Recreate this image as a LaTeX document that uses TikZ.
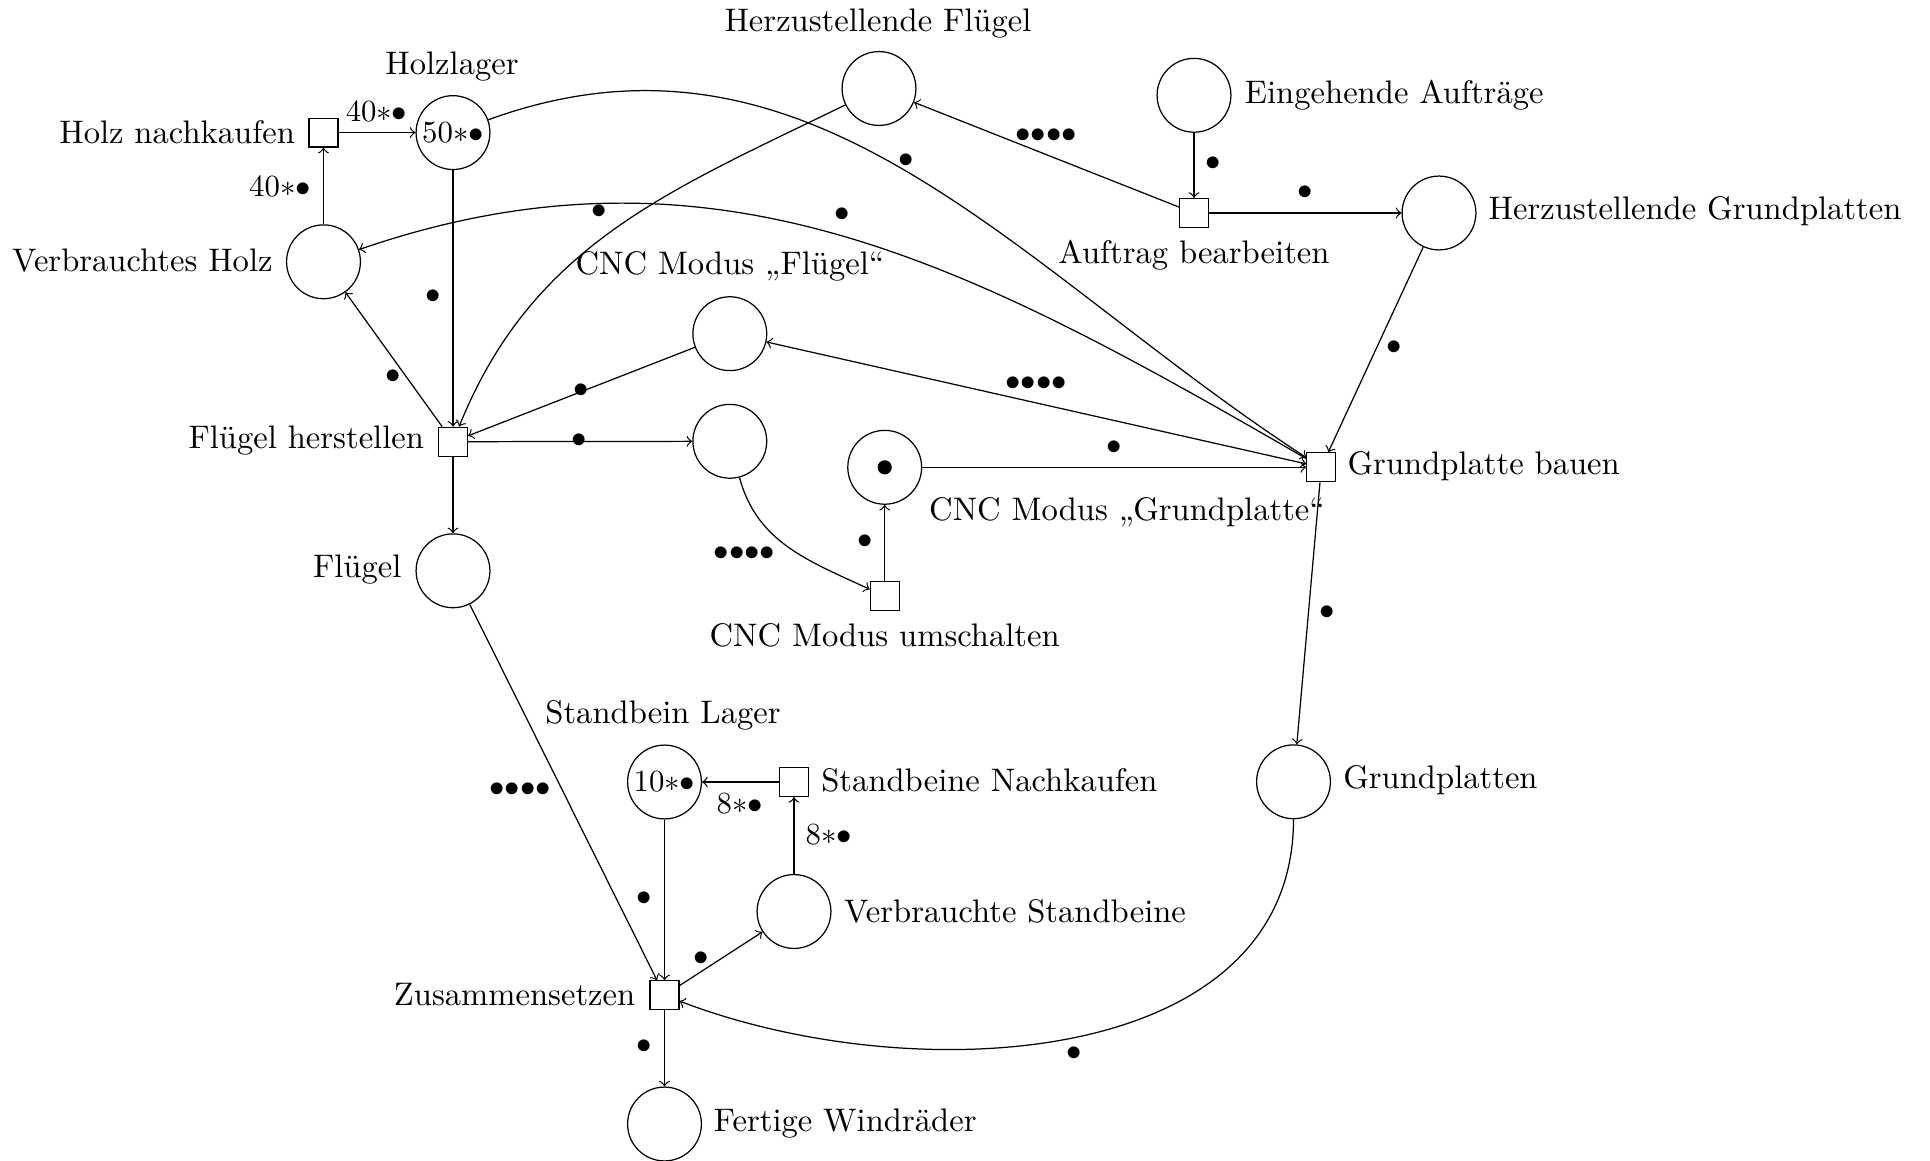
\documentclass[tikz,border=0pt]{standalone}
\newcommand\tokdot{$\bullet$}
\newcommand\tokfour{${\bullet}{\bullet}{\bullet}{\bullet}$}
\newcommand\tokmany[1]{$#1{\ast}{\bullet}$}
\begin{document}
\begin{tikzpicture}[x=0.325pt, y=-0.325pt, >=to, line width=0.4pt,
  pplace/.style={circle, draw, minimum size=24pt, inner sep=0pt},
  ptrans/.style={rectangle, draw, minimum size=9.4pt, inner sep=0pt},
  ptoken/.style={circle, fill, minimum size=4.6pt, inner sep=0pt},
  caption/.style={inner sep=0pt, font=\fontsize{10.6}{13}\selectfont},
  wlabel/.style={inner sep=0pt},
  flow/.style={->}]
\useasboundingbox (0,0) rectangle (1930,1161);

% places
\node[pplace] (HL)   at (453,132.6)   {\tokmany{50}};
\node[pplace] (VH)   at (323.5,261.8) {};
\node[pplace] (HF)   at (879,88.5)    {};
\node[pplace] (EA)   at (1194,95.3)   {};
\node[pplace] (HG)   at (1439,213)    {};
\node[pplace] (CNCF) at (729.8,333.7) {};
\node[pplace] (PF)   at (729.8,441.3) {};
\node[pplace] (CG)   at (884.7,467.3) {};
\node[ptoken] (CGt)  at (CG) {};
\node[pplace] (FL)   at (453,570.8)   {};
\node[pplace] (GP)   at (1293.5,781.8) {};
\node[pplace] (SL)   at (664.5,782)   {\tokmany{10}};
\node[pplace] (VS)   at (794,911.5)   {};
\node[pplace] (FW)   at (664.5,1124)  {};

% transitions
\node[ptrans] (HN) at (323.5,132.6) {};
\node[ptrans] (AB) at (1194,213)    {};
\node[ptrans] (FH) at (453,441.7)   {};
\node[ptrans] (GB) at (1321.3,467.3) {};
\node[ptrans] (CU) at (884.7,596.3) {};
\node[ptrans] (SN) at (794,782)     {};
\node[ptrans] (ZS) at (664.5,995.3) {};

% captions
\node[caption, anchor=base east] (tHN) at (295.5,144)   {Holz nachkaufen};
\node[caption, anchor=base]      (tHL) at (452,75)      {Holzlager};
\node[caption, anchor=base east] (tVH) at (273.2,271.7) {Verbrauchtes Holz};
\node[caption, anchor=base]      (tHF) at (878,31.7)    {Herzustellende Fl\"ugel};
\node[caption, anchor=base west] (tEA) at (1244.3,103.3) {Eingehende Auftr\"age};
\node[caption, anchor=base]      (tAB) at (1194,263.3)  {Auftrag bearbeiten};
\node[caption, anchor=base west] (tHG) at (1488,219.3)  {Herzustellende Grundplatten};
\node[caption, anchor=base]      (tCNCF) at (730,275)   {CNC Modus \quotedblbase Fl\"ugel\textquotedblleft};
\node[caption, anchor=base east] (tFH) at (424.6,448.3) {Fl\"ugel herstellen};
\node[caption, anchor=base east] (tFL) at (402,577.7)   {Fl\"ugel};
\node[caption, anchor=base west] (tCG) at (928.6,520.7) {CNC Modus \quotedblbase Grundplatte\textquotedblleft};
\node[caption, anchor=base west] (tGB) at (1347,474.3)  {Grundplatte bauen};
\node[caption, anchor=base]      (tCU) at (884.7,646)   {CNC Modus umschalten};
\node[caption, anchor=base west] (tGP) at (1342.7,788.3) {Grundplatten};
\node[caption, anchor=base]      (tSL) at (663,723.3)   {Standbein Lager};
\node[caption, anchor=base west] (tSN) at (820.7,791.7) {Standbeine Nachkaufen};
\node[caption, anchor=base west] (tVS) at (843.5,922.7) {Verbrauchte Standbeine};
\node[caption, anchor=base east] (tZS) at (635.9,1005)  {Zusammensetzen};
\node[caption, anchor=base west] (tFW) at (713.3,1131.7) {Fertige Windr\"ader};

% arcs
\draw[flow] (HN) -- (HL);
\draw[flow] (VH) -- (HN);
\draw[flow] (HL) -- (FH);
\draw[flow] (FH) -- (VH);
\draw[flow] (FH) -- (FL);
\draw[flow] (HF) to[out=206,in=68] (FH);
\draw[flow] (HL) to[out=20,in=147] (GB);
\draw[flow] (GB) to[out=150,in=19] (VH);
\draw[flow] (EA) -- (AB);
\draw[flow] (AB) -- (HG);
\draw[flow] (AB) -- (HF);
\draw[flow] (HG) -- (GB);
\draw[flow] (CNCF) -- (FH);
\draw[flow] (FH) -- (PF);
\draw[flow, <->] (GB) -- (CNCF);
\draw[flow] (PF) to[out=-75,in=155] (CU);
\draw[flow] (CU) -- (CG);
\draw[flow] (CG) -- (GB);
\draw[flow] (GB) -- (GP);
\draw[flow] (GP) to[out=-90,in=-21] (ZS);
\draw[flow] (FL) -- (ZS);
\draw[flow] (SL) -- (ZS);
\draw[flow] (SN) -- (SL);
\draw[flow] (VS) -- (SN);
\draw[flow] (ZS) -- (VS);
\draw[flow] (ZS) -- (FW);

% arc weights
\node[wlabel, anchor=base] (w1) at (376.6,121.7) {\tokmany{40}};
\node[wlabel, anchor=base] (w2) at (280,196.7)   {\tokmany{40}};
\node[wlabel] (w3)  at (433.3,296.7) {\tokdot};
\node[wlabel] (w4)  at (393,376.7)   {\tokdot};
\node[wlabel] (w5)  at (599,211.7)   {\tokdot};
\node[wlabel] (w6)  at (842.3,214.3) {\tokdot};
\node[wlabel] (w7)  at (906,161)     {\tokdot};
\node[wlabel] (w8)  at (1213,164)    {\tokdot};
\node[wlabel] (w9)  at (1305,193)    {\tokdot};
\node[wlabel] (w10) at (1046,136)    {\tokfour};
\node[wlabel] (w11) at (1394,348)    {\tokdot};
\node[wlabel] (w12) at (580.8,391)   {\tokdot};
\node[wlabel] (w13) at (579.5,441)   {\tokdot};
\node[wlabel] (w14) at (1036,383.3)  {\tokfour};
\node[wlabel] (w15) at (1114,447.7)  {\tokdot};
\node[wlabel] (w16) at (865,541.7)   {\tokdot};
\node[wlabel] (w17) at (744.5,553.5) {\tokfour};
\node[wlabel] (w18) at (1327,612.7)  {\tokdot};
\node[wlabel] (w19) at (520,790)     {\tokfour};
\node[wlabel, anchor=base] (w20) at (739.7,813.3) {\tokmany{8}};
\node[wlabel, anchor=base west] (w21) at (805,844) {\tokmany{8}};
\node[wlabel] (w22) at (644.5,898.3) {\tokdot};
\node[wlabel] (w23) at (701.3,958.3) {\tokdot};
\node[wlabel] (w24) at (644.5,1046.7) {\tokdot};
\node[wlabel] (w25) at (1074.5,1054) {\tokdot};
\end{tikzpicture}
\end{document}
